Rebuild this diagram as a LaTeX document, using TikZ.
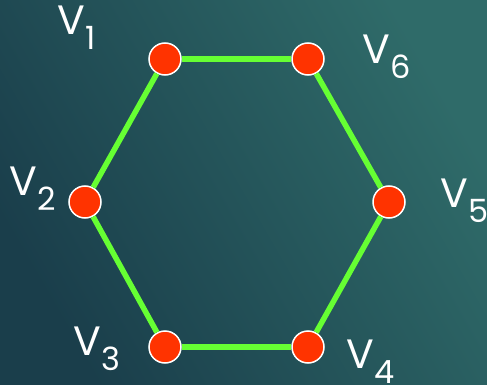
\documentclass[tikz,border=0pt]{standalone}
\usepackage{fontspec}
\setmainfont{Poppins}
\usepackage{tikz}
\usetikzlibrary{calc, positioning}
\usepackage{xcolor}
\definecolor{bgDark}{RGB}{26, 62, 75}
\definecolor{bgLight}{RGB}{47, 107, 105}
\definecolor{edgeGreen}{RGB}{102, 255, 51}
\definecolor{vertRed}{RGB}{255, 51, 0}
\newcommand{\vlab}[1]{V\kern0.5pt\raisebox{-15pt}{\fontsize{32}{32}\selectfont #1}}

\begin{document}
\begin{tikzpicture}[x=1pt, y=-1pt,
    vert/.style={circle, fill=vertRed, draw=white, line width=1.5pt,
                 minimum size=32pt, inner sep=0pt},
    edge/.style={edgeGreen, line width=5.5pt},
    vname/.style={anchor=base west, inner sep=0pt, text=white,
                  font=\fontsize{41}{41}\selectfont}]
  % --- Background ---
  \shade[left color=bgDark, right color=bgLight, shading angle=120]
       (0,0) rectangle (487,385);
  \useasboundingbox (0,0) rectangle (487,385);

  % --- Vertices ---
  \node[vert] (v1) at (165,59)  {};
  \node[vert] (v2) at (85,202)  {};
  \node[vert] (v3) at (165,347) {};
  \node[vert] (v4) at (308,347) {};
  \node[vert] (v5) at (389,202) {};
  \node[vert] (v6) at (308,59)  {};

  % --- Edges ---
  \draw[edge] (v1) -- (v6);
  \draw[edge] (v6) -- (v5);
  \draw[edge] (v5) -- (v4);
  \draw[edge] (v4) -- (v3);
  \draw[edge] (v3) -- (v2);
  \draw[edge] (v2) -- (v1);

  % --- Labels ---
  \node[vname] (l1) at (57,35)   {\vlab{1}};
  \node[vname] (l2) at (9,195)   {\vlab{2}};
  \node[vname] (l3) at (73,355)  {\vlab{3}};
  \node[vname] (l4) at (346,368) {\vlab{4}};
  \node[vname] (l5) at (440,207) {\vlab{5}};
  \node[vname] (l6) at (362,64)  {\vlab{6}};
\end{tikzpicture}
\end{document}
